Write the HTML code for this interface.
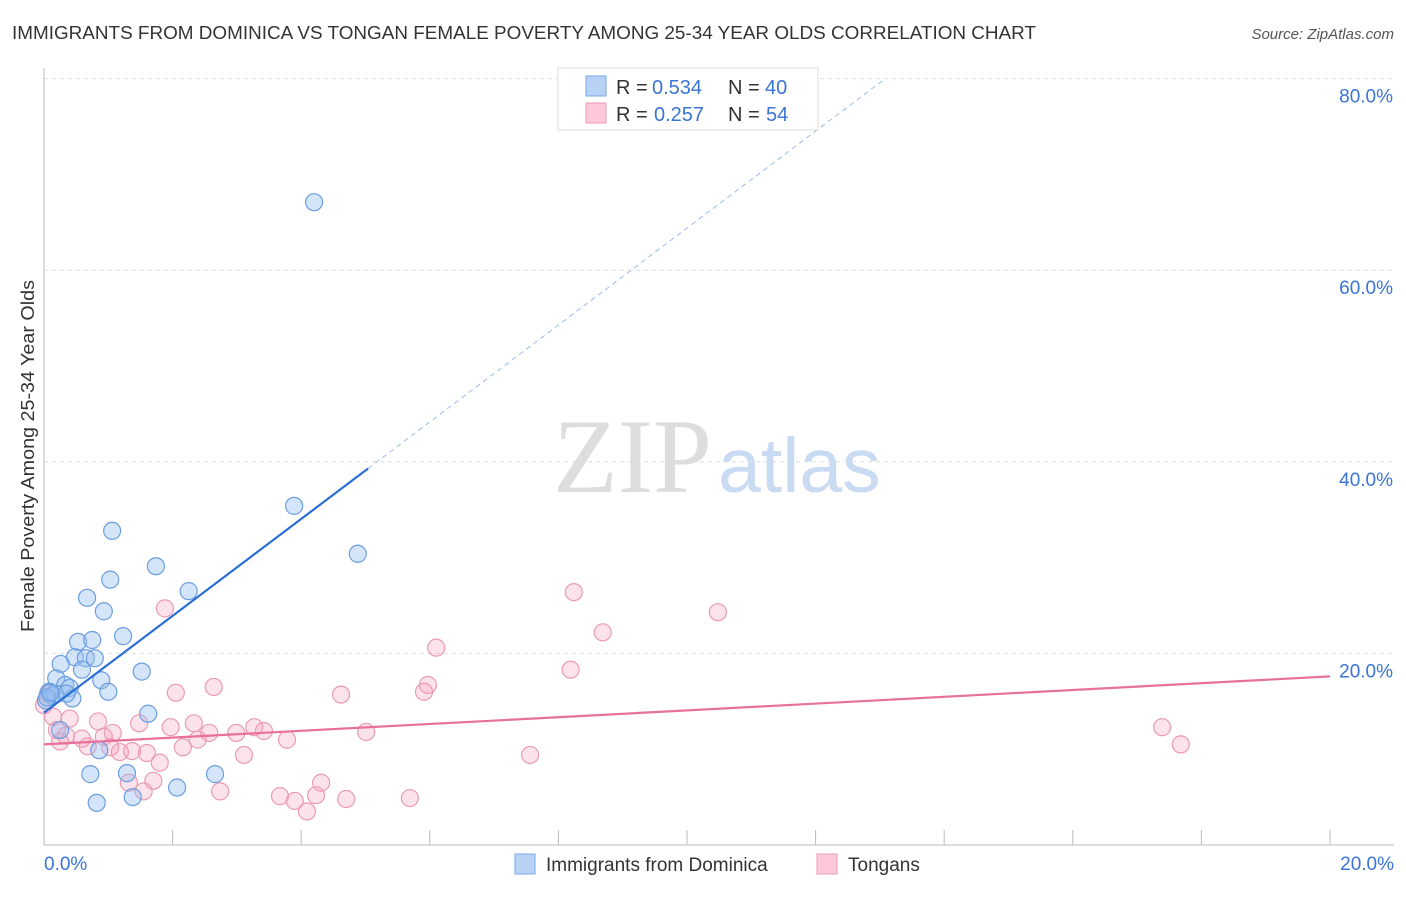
<!DOCTYPE html>
<html><head><meta charset="utf-8"><style>
body{margin:0;background:#fff;font-family:"Liberation Sans",sans-serif}
svg text{font-family:"Liberation Sans",sans-serif}
</style></head><body>
<svg id="c" width="1406" height="892">
<text x="12" y="39" font-size="18" fill="#333" textLength="1024" lengthAdjust="spacingAndGlyphs">IMMIGRANTS FROM DOMINICA VS TONGAN FEMALE POVERTY AMONG 25-34 YEAR OLDS CORRELATION CHART</text>
<text x="1394" y="39" font-size="15" fill="#555" font-style="italic" text-anchor="end">Source: ZipAtlas.com</text>
<text x="34" y="456" font-size="18" fill="#333" text-anchor="middle" textLength="352" lengthAdjust="spacingAndGlyphs" transform="rotate(-90 34 456)">Female Poverty Among 25-34 Year Olds</text>
<text x="553" y="492" font-size="106" fill="#ddd" style="font-family:'Liberation Serif',serif">ZIP</text>
<text x="718" y="492" font-size="77" fill="#c8dbf2">atlas</text>
<g id="grid"></g><g id="marks"></g>
<g>
<rect x="558" y="68" width="260" height="62" fill="#fff" stroke="#ddd"/>
<rect x="586" y="76" width="20" height="20" fill="#b8d2f5" stroke="#7aa8e8"/>
<rect x="586" y="103" width="20" height="20" fill="#fac8d8" stroke="#f09ab5"/>
<text x="616" y="94" font-size="20" fill="#333">R =</text>
<text x="652" y="94" font-size="20" fill="#3a74d4">0.534</text>
<text x="728" y="94" font-size="20" fill="#333">N =</text>
<text x="765" y="94" font-size="20" fill="#3a74d4">40</text>
<text x="616" y="121" font-size="20" fill="#333">R =</text>
<text x="654" y="121" font-size="20" fill="#3a74d4">0.257</text>
<text x="728" y="121" font-size="20" fill="#333">N =</text>
<text x="766" y="121" font-size="20" fill="#3a74d4">54</text>
</g>
<g>
<rect x="515" y="854" width="20" height="20" fill="#b8d2f5" stroke="#7aa8e8"/>
<text x="546" y="871" font-size="19" fill="#333">Immigrants from Dominica</text>
<rect x="817" y="854" width="20" height="20" fill="#fac8d8" stroke="#f09ab5"/>
<text x="848" y="871" font-size="19" fill="#333">Tongans</text>
</g>
</svg>
<script>
const yTicks=[20,40,60,80];
const xTickLabels=["0.0%","20.0%"];
const blueX=[4.20,3.89,4.88,1.06,1.74,1.03,2.25,0.67,0.93,1.23,0.53,0.75,0.48,0.65,0.79,0.26,0.59,1.52,0.19,0.89,0.33,0.40,0.08,0.12,1.0,0.44,0.03,1.62,0.25,0.86,0.72,1.29,2.66,2.07,1.38,0.82,0.17,0.35,0.05,0.10];
const blueY=[67.1,35.4,30.4,32.8,29.1,27.7,26.5,25.8,24.4,21.8,21.2,21.4,19.6,19.5,19.5,18.9,18.3,18.1,17.4,17.2,16.7,16.4,16.0,15.6,16.0,15.3,15.1,13.7,12.0,9.9,7.4,7.5,7.4,6.0,5.0,4.4,15.8,15.8,15.4,15.9];
const pinkX=[1.88,8.24,10.48,8.69,6.10,8.19,5.97,5.91,2.64,2.05,4.62,17.39,17.68,7.56,5.01,0.14,0.40,0.84,1.48,1.97,2.33,2.57,2.99,3.27,3.42,3.78,2.39,2.16,1.07,0.93,0.59,0.34,0.25,0.68,1.03,1.18,1.37,1.60,1.80,3.11,1.70,1.32,1.55,2.74,3.67,3.90,4.09,4.23,4.31,4.70,5.69,0.0,0.06,0.2];
const pinkY=[24.7,26.4,24.3,22.2,20.6,18.3,16.7,16.0,16.5,15.9,15.7,12.3,10.5,9.4,11.8,13.4,13.2,12.9,12.7,12.3,12.7,11.7,11.7,12.3,11.9,11.0,11.0,10.2,11.7,11.3,11.1,11.4,10.8,10.3,10.2,9.7,9.8,9.6,8.6,9.4,6.7,6.5,5.6,5.6,5.1,4.6,3.5,5.2,6.5,4.8,4.9,14.6,15.8,12.0];
const blueFit=[13.8,39.3,5.04,80];
const pinkFit=[10.5,17.6];
const X=v=>44+v/20*1286, Y=v=>845-v/20*191.6;
const NS="http://www.w3.org/2000/svg";
function mk(p,t,a){const e=document.createElementNS(NS,t);for(const k in a)e.setAttribute(k,a[k]);p.appendChild(e);return e;}
const g=document.getElementById('grid'),m=document.getElementById('marks');
let ax=mk(g,'line',{x1:44,y1:68,x2:44,y2:845,stroke:'#bbb'});

let bx=mk(g,'line',{x1:44,y1:845,x2:1394,y2:845,stroke:'#bbb'});

for(let i=0;i<=10;i++){const t=mk(g,'line',{x1:X(i*2),y1:830,x2:X(i*2),y2:845,stroke:'#bbb'});
}
yTicks.forEach(v=>{const l=mk(g,'line',{x1:44,y1:Y(v),x2:1394,y2:Y(v),stroke:'#ddd','stroke-dasharray':'4 4'});

const t=mk(g,'text',{x:1393,y:Y(v)+24,'font-size':19,fill:'#3a74d4','text-anchor':'end'});t.textContent=v.toFixed(1)+'%';
});
[[0,'start',44],[20,'end',1394]].forEach((d,i)=>{const t=mk(g,'text',{x:d[2],y:870,'font-size':19,fill:'#3a74d4','text-anchor':d[1]});t.textContent=xTickLabels[i];
});
pinkX.forEach((v,i)=>{const c=mk(m,'circle',{cx:X(v),cy:Y(pinkY[i]),r:8.5,fill:'rgba(245,160,190,0.3)',stroke:'#eb9ab5','stroke-width':1.2});
});
blueX.forEach((v,i)=>{const c=mk(m,'circle',{cx:X(v),cy:Y(blueY[i]),r:8.5,fill:'rgba(150,190,240,0.4)',stroke:'#6a9ee0','stroke-width':1.2});
});
const slope=(blueFit[1]-blueFit[0])/5.04;
let bl=mk(m,'line',{x1:X(0),y1:Y(blueFit[0]),x2:X(blueFit[2]),y2:Y(blueFit[1]),stroke:'#2a6fd6','stroke-width':2.2});

const xe=(blueFit[3]-blueFit[0])/slope;
let bd=mk(m,'line',{x1:X(blueFit[2]),y1:Y(blueFit[1]),x2:X(xe),y2:Y(blueFit[3]),stroke:'#9bbbe8','stroke-width':1,'stroke-dasharray':'5 4'});

let pl=mk(m,'line',{x1:X(0),y1:Y(pinkFit[0]),x2:X(20),y2:Y(pinkFit[1]),stroke:'#e8709a','stroke-width':2.2});

</script>
</body></html>
